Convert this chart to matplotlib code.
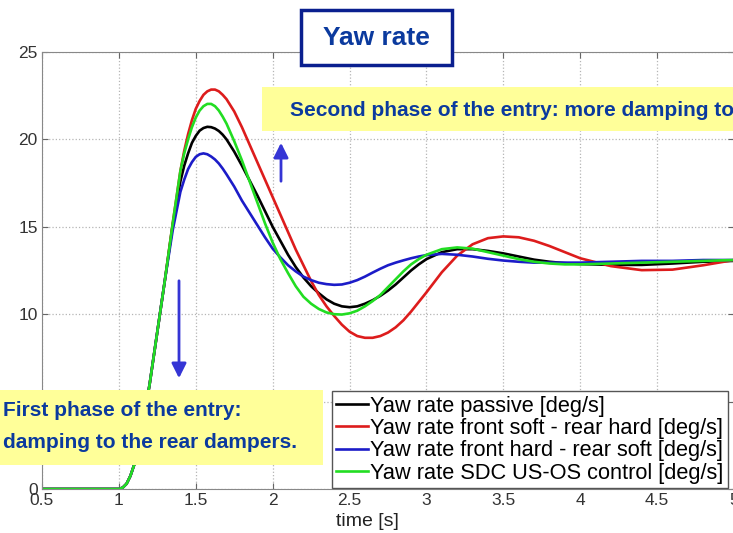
import matplotlib
matplotlib.use('Agg')
import matplotlib.pyplot as plt
from matplotlib.patches import Rectangle

plt.rcParams['font.family'] = ['Liberation Sans', 'DejaVu Sans']

# sampled yaw rate responses [deg/s] over time [s]
t = [0.5, 1.0, 1.025, 1.05, 1.075, 1.1, 1.15, 1.2, 1.25, 1.3,
     1.35, 1.4, 1.425, 1.45, 1.475, 1.5, 1.525, 1.55, 1.575, 1.6, 1.625, 1.65, 1.675, 1.7,
     1.75, 1.8, 1.85, 1.9, 1.95, 2.0,
     2.05, 2.1, 2.15, 2.2, 2.25, 2.3, 2.35, 2.4, 2.45, 2.5,
     2.55, 2.6, 2.65, 2.7, 2.75, 2.8, 2.85, 2.9, 2.95, 3.0,
     3.1, 3.2, 3.3, 3.4, 3.5, 3.6, 3.7, 3.8, 3.9, 4.0,
     4.2, 4.4, 4.6, 4.8, 5.0]

passive = [0, 0, 0.08, 0.3, 0.75, 1.4, 3.4, 6.0, 9.0, 12.0,
           15.1, 17.6, 18.5, 19.2, 19.8, 20.2, 20.5, 20.65, 20.72, 20.7, 20.62, 20.48, 20.27, 20.0,
           19.3, 18.5, 17.65, 16.8, 15.9, 15.0,
           14.2, 13.4, 12.7, 12.1, 11.6, 11.2, 10.85, 10.6, 10.45, 10.4,
           10.45, 10.6, 10.8, 11.05, 11.35, 11.7, 12.1, 12.5, 12.85, 13.15,
           13.55, 13.72, 13.72, 13.62, 13.48, 13.3, 13.12, 13.0, 12.92, 12.87,
           12.82, 12.82, 12.9, 13.0, 13.05]

soft_hard = [0, 0, 0.08, 0.3, 0.75, 1.4, 3.4, 6.0, 9.0, 12.0,
             15.2, 18.2, 19.35, 20.3, 21.1, 21.75, 22.2, 22.55, 22.75, 22.85, 22.85, 22.75, 22.55, 22.3,
             21.6, 20.7, 19.7, 18.7, 17.7, 16.7,
             15.7, 14.7, 13.7, 12.8, 11.9, 11.1, 10.45, 9.9, 9.4, 9.0,
             8.75, 8.65, 8.65, 8.75, 8.95, 9.25, 9.65, 10.15, 10.7, 11.25,
             12.4, 13.35, 14.0, 14.35, 14.45, 14.4, 14.2, 13.9, 13.55, 13.2,
             12.75, 12.52, 12.55, 12.8, 13.1]

hard_soft = [0, 0, 0.08, 0.3, 0.75, 1.4, 3.4, 6.0, 9.0, 12.0,
             14.8, 17.0, 17.7, 18.3, 18.7, 19.0, 19.15, 19.2, 19.15, 19.02, 18.85, 18.62, 18.33, 18.0,
             17.3, 16.5, 15.8, 15.1, 14.4, 13.75,
             13.25, 12.8, 12.45, 12.15, 11.95, 11.8, 11.72, 11.68, 11.7, 11.8,
             11.95, 12.15, 12.38, 12.6, 12.8, 12.95, 13.08, 13.2, 13.3, 13.38,
             13.45, 13.4, 13.3, 13.17, 13.07, 13.0, 12.95, 12.95, 12.95, 12.95,
             13.0, 13.05, 13.05, 13.1, 13.1]

sdc = [0, 0, 0.08, 0.3, 0.75, 1.4, 3.4, 6.0, 9.0, 12.0,
       15.2, 18.2, 19.2, 20.0, 20.7, 21.25, 21.65, 21.9, 22.03, 22.03, 21.9, 21.65, 21.3, 20.9,
       19.9, 18.8, 17.6, 16.4, 15.2, 14.1,
       13.15, 12.35, 11.6, 11.0, 10.6, 10.3, 10.1, 10.0, 9.98, 10.05,
       10.2, 10.45, 10.75, 11.1, 11.55, 12.0, 12.45, 12.85, 13.15, 13.4,
       13.72, 13.82, 13.75, 13.55, 13.35, 13.15, 13.0, 12.9, 12.85, 12.85,
       12.9, 12.95, 13.0, 13.05, 13.1]

labels = ['Yaw rate passive [deg/s]',
          'Yaw rate front soft - rear hard [deg/s]',
          'Yaw rate front hard - rear soft [deg/s]',
          'Yaw rate SDC US-OS control [deg/s]']
colors = ['#000000', '#dd1c1c', '#1c1cc8', '#22dd22']

W, H = 733, 533
def fx(px):
    return px / W
def fy(py):
    return 1 - py / H

fig = plt.figure(figsize=(W / 100, H / 100), dpi=100)
ax = fig.add_axes([fx(42), fy(489), (734 - 42) / W, (489 - 52) / H])

for y, c, lab in zip([passive, soft_hard, hard_soft, sdc], colors, labels):
    ax.plot(t, y, color=c, lw=1.9, label=lab)

ax.set_xlim(0.5, 5)
ax.set_ylim(0, 25)
ax.set_xticks([0.5, 1, 1.5, 2, 2.5, 3, 3.5, 4, 4.5, 5])
ax.set_xticklabels(['0.5', '1', '1.5', '2', '2.5', '3', '3.5', '4', '4.5', '5'])
# the 5 label sits under the yellow box, so leave it blank
ax.set_yticks([0, 5, 10, 15, 20, 25])
ax.set_yticklabels(['0', '', '10', '15', '20', '25'])
ax.grid(True, linestyle=':', color='#b5b5b5', linewidth=0.9)
ax.tick_params(direction='in', length=4, top=True, right=True,
               labelsize=12.5, labelcolor='#333333', color='#666666', pad=3)
for s in ax.spines.values():
    s.set_color('#888888')
ax.set_xlabel('time [s]', fontsize=14, color='#222222')
ax.xaxis.set_label_coords((367 - 42) / (734 - 42), -0.055)

ax.legend(loc='lower right', bbox_to_anchor=(fx(728), fy(488)), bbox_transform=fig.transFigure,
          fontsize=15.7, frameon=True, fancybox=False, framealpha=1, edgecolor='#555555',
          handlelength=1.45, handletextpad=0.12, labelspacing=0.06, borderpad=0.2, borderaxespad=0)

navy = '#0b3a9e'
yellow = '#ffff99'

# title box
fig.patches.append(Rectangle((fx(301), fy(65)), (452 - 301) / W, (65 - 10) / H, transform=fig.transFigure,
                             facecolor='white', edgecolor='#0a1f8f', lw=2.5, zorder=5))
fig.text(fx(376), fy(38), 'Yaw rate', fontsize=19, fontweight='bold', color=navy,
         ha='center', va='center', zorder=6)

# annotation boxes
fig.patches.append(Rectangle((fx(262), fy(131)), (740 - 262) / W, (131 - 87) / H, transform=fig.transFigure,
                             facecolor=yellow, edgecolor='none', zorder=5))
fig.text(fx(290), fy(110), 'Second phase of the entry: more damping to the front dampers.',
         fontsize=15, fontweight='bold', color=navy, ha='left', va='center', zorder=6)

fig.patches.append(Rectangle((0, fy(465)), 323 / W, (465 - 390) / H, transform=fig.transFigure,
                             facecolor=yellow, edgecolor='none', zorder=5))
fig.text(fx(3), fy(411), 'First phase of the entry:', fontsize=15, fontweight='bold', color=navy,
         ha='left', va='center', zorder=6)
fig.text(fx(3), fy(442), 'damping to the rear dampers.', fontsize=15, fontweight='bold', color=navy,
         ha='left', va='center', zorder=6)

# arrows
arrow = dict(arrowstyle='-|>', color='#3535d5', lw=2, mutation_scale=22)
ax.annotate('', xy=(fx(179), fy(381)), xytext=(fx(179), fy(278)), xycoords='figure fraction',
            textcoords='figure fraction', arrowprops=arrow)
ax.annotate('', xy=(fx(281), fy(140)), xytext=(fx(281), fy(184)), xycoords='figure fraction',
            textcoords='figure fraction', arrowprops=arrow)

fig.savefig('out.png', dpi=100)
